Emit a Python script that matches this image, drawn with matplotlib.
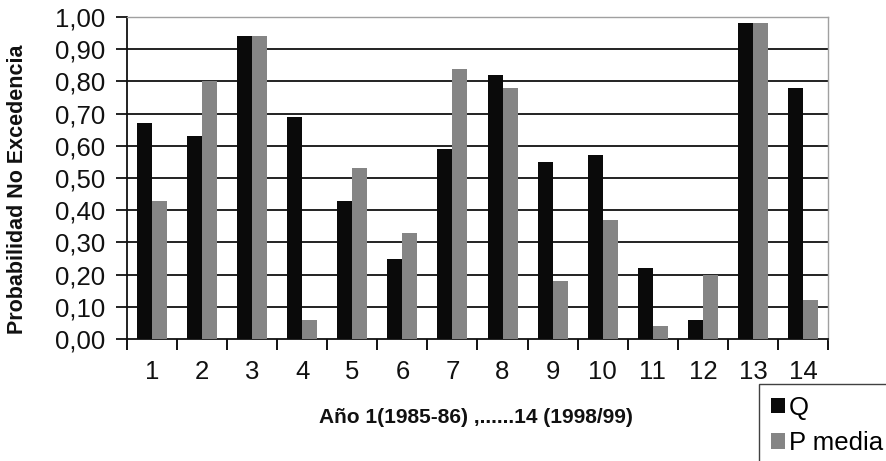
import matplotlib
matplotlib.use("Agg")
import matplotlib.pyplot as plt
import numpy as np
from matplotlib.ticker import FixedLocator, FixedFormatter, NullFormatter

plt.rcParams['font.family'] = ['Liberation Sans', 'DejaVu Sans']

years = [str(i) for i in range(1, 15)]
q_values = [0.67, 0.63, 0.94, 0.69, 0.43, 0.25, 0.59, 0.82, 0.55, 0.57, 0.22, 0.06, 0.98, 0.78]
p_media = [0.43, 0.80, 0.94, 0.06, 0.53, 0.33, 0.84, 0.78, 0.18, 0.37, 0.04, 0.20, 0.98, 0.12]
y_ticks = [0.0, 0.1, 0.2, 0.3, 0.4, 0.5, 0.6, 0.7, 0.8, 0.9, 1.0]
y_tick_labels = ['0,00', '0,10', '0,20', '0,30', '0,40', '0,50', '0,60', '0,70', '0,80', '0,90', '1,00']

W, H = 887, 461
fig = plt.figure(figsize=(W / 100, H / 100), dpi=100)
ax = fig.add_axes([127 / W, 1 - 339 / H, 701 / W, 322 / H])

x = np.arange(len(years))
bw = 0.3
ax.bar(x - bw / 2, q_values, width=bw, color='#0a0a0a', label='Q', zorder=3)
ax.bar(x + bw / 2, p_media, width=bw, color='#858585', label='P media', zorder=3)

ax.set_xlim(-0.5, len(years) - 0.5)
ax.set_ylim(0, 1.0)

# horizontal gridlines
for v in y_ticks[1:-1]:
    ax.axhline(v, color='#111111', lw=1.3, zorder=1)

ax.yaxis.set_major_locator(FixedLocator(y_ticks))
ax.yaxis.set_major_formatter(FixedFormatter(y_tick_labels))
ax.tick_params(axis='y', direction='out', length=8, width=1.3, pad=8,
               labelsize=18.5, colors='#111111')

# category boundaries carry the ticks, centres carry the labels
ax.xaxis.set_major_locator(FixedLocator(np.arange(-0.5, len(years) + 0.5, 1.0)))
ax.xaxis.set_major_formatter(NullFormatter())
ax.xaxis.set_minor_locator(FixedLocator(x))
ax.xaxis.set_minor_formatter(FixedFormatter(years))
ax.tick_params(axis='x', which='major', direction='out', length=8, width=1.3)
ax.tick_params(axis='x', which='minor', length=0, pad=15, labelsize=18.5,
               labelcolor='#111111')

for side in ('left', 'bottom'):
    ax.spines[side].set_color('#111111')
    ax.spines[side].set_linewidth(1.3)
for side in ('top', 'right'):
    ax.spines[side].set_color('#a0a0a0')
    ax.spines[side].set_linewidth(1.0)

fig.text(18 / W, 1 - 189 / H, 'Probabilidad No Excedencia', rotation=90,
         ha='center', va='center', fontsize=15.5, fontweight='bold', color='#111111')
fig.text(476 / W, 1 - 417 / H, 'Año 1(1985-86) ,......14 (1998/99)',
         ha='center', va='center', fontsize=15, fontweight='bold', color='#111111')

leg = fig.legend(loc='upper left', bbox_to_anchor=(759 / W, 1 - 384 / H),
                 fontsize=18.5, frameon=True, fancybox=False, edgecolor='#111111',
                 handlelength=0.55, handleheight=0.55, handletextpad=0.15,
                 borderpad=0.45, labelspacing=0.45, borderaxespad=0)
leg.get_frame().set_linewidth(1.0)

fig.savefig('out.png', dpi=100, facecolor='white')
